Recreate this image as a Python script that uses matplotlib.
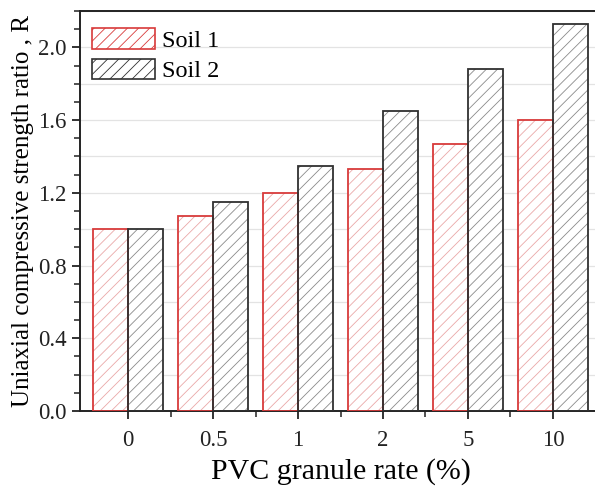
import matplotlib
matplotlib.use("Agg")
import matplotlib.pyplot as plt
import numpy as np
from matplotlib.ticker import MultipleLocator, FixedLocator
from matplotlib.patches import Patch

categories = ["0", "0.5", "1", "2", "5", "10"]
soil1 = [1.00, 1.07, 1.20, 1.33, 1.47, 1.60]
soil2 = [1.00, 1.15, 1.35, 1.65, 1.88, 2.13]
series_names = ["Soil 1", "Soil 2"]

plt.rcParams['font.family'] = ['Liberation Serif', 'DejaVu Serif']
plt.rcParams['hatch.linewidth'] = 0.6

fig = plt.figure(figsize=(5.95, 4.91), dpi=100)
ax = fig.add_axes([80/595, 80/491, 521/595, 400/491])

x = np.arange(len(categories))
w = 0.41
red_edge = "#d83a3a"
red_hatch = "#eaa8a8"
blk_edge = "#303030"
blk_hatch = "#8a8a8a"
hatch = "///"

ax.set_axisbelow(True)
for vals, off, ec, hc in [(soil1, -w/2, red_edge, red_hatch), (soil2, w/2, blk_edge, blk_hatch)]:
    ax.bar(x + off, vals, width=w, color="white", edgecolor=hc, hatch=hatch, linewidth=0, zorder=2)
    ax.bar(x + off, vals, width=w, color="none", edgecolor=ec, linewidth=1.3, zorder=3)

ax.set_xlim(-0.565, len(categories) - 1 + 0.565)
ax.set_ylim(0, 2.2)
ax.yaxis.set_minor_locator(MultipleLocator(0.1))
ax.set_yticks(np.arange(0, 2.21, 0.4))
ax.set_yticklabels([f"{v:.1f}" for v in np.arange(0, 2.21, 0.4)])
ax.set_xticks(x)
ax.set_xticklabels(categories)
ax.xaxis.set_minor_locator(FixedLocator(x[:-1] + 0.5))

for yv in np.arange(0.2, 2.21, 0.2):
    ax.axhline(yv, color="#e3e3e3", linewidth=0.9, zorder=0)

for s in ax.spines.values():
    s.set_linewidth(1.4)
    s.set_color("#222222")

ax.tick_params(axis='both', which='major', direction='out', length=6, width=1.3, labelsize=16.5, colors="#222222")
ax.tick_params(axis='both', which='minor', direction='out', length=4, width=1.1, colors="#222222")
ax.tick_params(axis='x', which='major', pad=8)
ax.tick_params(axis='x', which='minor', top=False)
ax.tick_params(axis='y', which='both', right=False)

ax.set_xlabel("PVC granule rate (%)", fontsize=21.5, labelpad=5)
ax.set_ylabel("Uniaxial compressive strength ratio , R", fontsize=18, labelpad=3)

handles = [
    Patch(facecolor="white", edgecolor=red_edge, hatch=hatch, linewidth=1.2),
    Patch(facecolor="white", edgecolor=blk_edge, hatch=hatch, linewidth=1.2),
]
leg = ax.legend(handles, series_names, loc="upper left", frameon=False, fontsize=17.5,
                handlelength=2.6, handleheight=0.93, handletextpad=0.3, labelspacing=0.29,
                borderaxespad=0, borderpad=0, bbox_to_anchor=(12/521, (411-28)/400))

fig.savefig("out.png", dpi=100)
